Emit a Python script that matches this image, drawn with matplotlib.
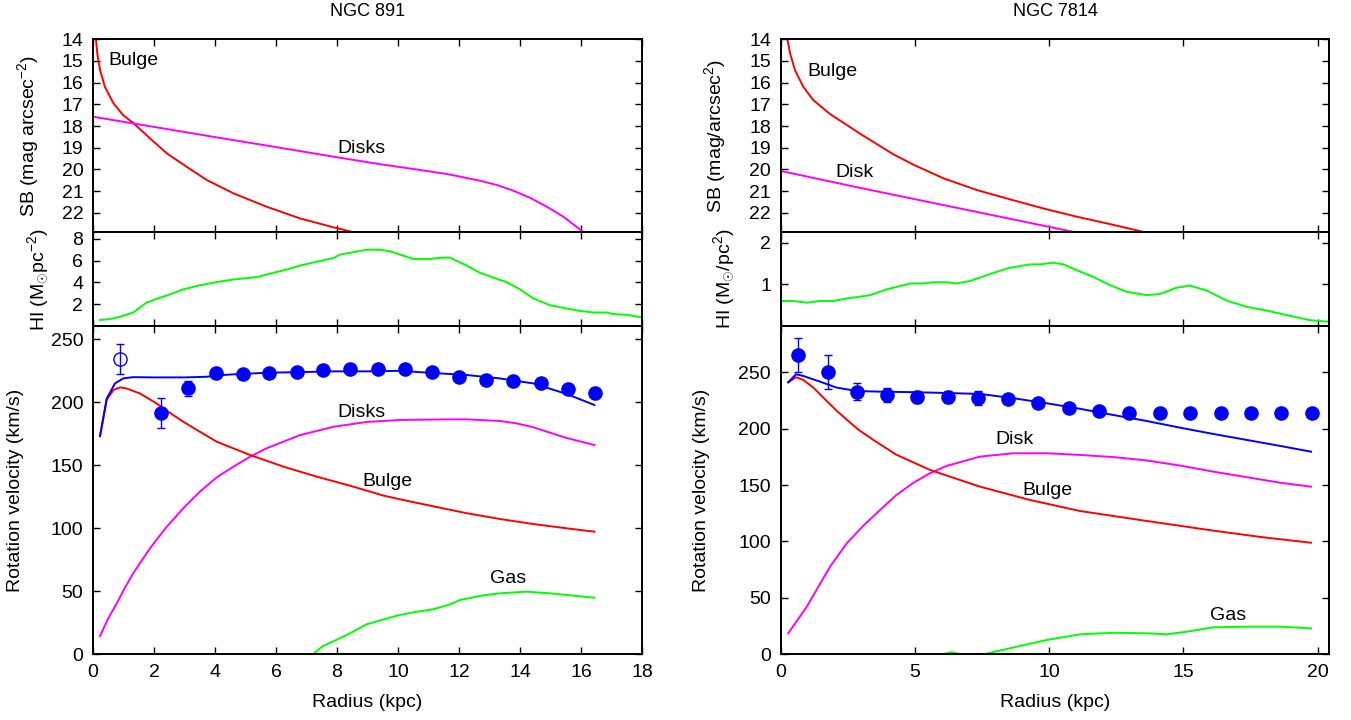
import numpy as np
import matplotlib.pyplot as plt

plt.rcParams['font.family'] = ['Liberation Sans', 'DejaVu Sans']
plt.rcParams['font.size'] = 14
plt.rcParams['mathtext.fontset'] = 'custom'
plt.rcParams['mathtext.rm'] = 'Liberation Sans'
plt.rcParams['mathtext.it'] = 'Liberation Sans:italic'

RED = '#ff0000'
MAG = '#ff00ff'
GRN = '#00ff00'
BLU = '#0000ff'

# ---------------- NGC 891 ----------------
sb891_bulge_r = [0.10, 0.14, 0.23, 0.39, 0.67, 0.99, 1.32, 1.87, 2.42, 3.07, 3.73, 4.60, 5.69, 6.79, 7.88, 8.53]
sb891_bulge = [14.03, 14.65, 15.42, 16.19, 16.95, 17.50, 17.86, 18.57, 19.26, 19.88, 20.49, 21.10, 21.72, 22.26, 22.67, 22.89]
sb891_disk_r = [0.0, 2.0, 4.0, 6.0, 8.0, 9.41, 10.5, 11.6, 12.69, 13.24, 13.78, 14.33, 14.88, 15.42, 16.08]
sb891_disk = [17.57, 18.04, 18.51, 18.97, 19.44, 19.76, 19.98, 20.21, 20.52, 20.72, 20.98, 21.31, 21.72, 22.18, 22.89]

hi891_r = [0.23, 0.56, 0.89, 1.32, 1.76, 2.2, 2.52, 2.96, 3.5, 4.06, 4.6, 5.15, 5.48, 5.69, 6.35, 6.79,
           7.88, 8.1, 8.97, 9.41, 9.74, 10.07, 10.5, 11.05, 11.38, 11.7, 12.25, 12.69, 13.24, 13.56,
           14.0, 14.44, 14.98, 15.53, 15.96, 16.4, 16.84, 17.05, 17.49, 18.0]
hi891 = [0.55, 0.64, 0.85, 1.24, 2.15, 2.6, 2.9, 3.36, 3.73, 4.03, 4.27, 4.42, 4.55, 4.73, 5.18, 5.55,
         6.24, 6.55, 7.0, 7.0, 6.85, 6.55, 6.15, 6.15, 6.27, 6.27, 5.55, 4.88, 4.33, 4.03,
         3.36, 2.52, 1.91, 1.61, 1.39, 1.24, 1.24, 1.09, 1.03, 0.8]

obs891_r = [2.22, 3.13, 4.02, 4.91, 5.78, 6.68, 7.55, 8.44, 9.33, 10.23, 11.1, 12.01, 12.89, 13.78, 14.68, 15.56, 16.46]
obs891_v = [191.3, 211.3, 223, 222.2, 223.5, 224, 225.6, 226.2, 226.2, 226.4, 223.8, 219.8, 217.5, 217.1, 215.6, 210.3, 207.6]
obs891_e = [12, 6, 3, 3, 3, 3, 3, 3, 3, 3, 3, 3, 3, 3, 3, 3, 3]
open891_r = [0.89]
open891_v = [234.4]
open891_e = [12]

tot891_r = [0.23, 0.45, 0.72, 0.99, 1.32, 2.0, 3.0, 3.73, 4.06, 4.6, 5.69, 6.79, 7.88, 8.97, 10.07,
            11.15, 12.25, 13.34, 14.44, 15.53, 16.44]
tot891_v = [173.3, 203, 215, 219, 220, 219.8, 219.8, 220.3, 221.4, 222.2, 223.5, 224, 224.6, 224.6, 225,
            223.3, 221.7, 219, 215, 206.6, 197.9]
bul891_r = [0.23, 0.45, 0.67, 0.89, 1.1, 1.54, 2.08, 2.42, 2.96, 3.5, 4.06, 5.15, 6.25, 7.34, 8.43, 9.52,
            10.07, 11.15, 12.25, 13.34, 14.44, 15.53, 16.44]
bul891_v = [173, 202, 209.8, 211.9, 211, 207, 199.2, 193.3, 184.6, 176.7, 168.7, 158.2, 148.9, 141, 133.8, 126,
            123, 117.5, 112, 107.4, 103.4, 100, 97.3]
dsk891_r = [0.23, 0.5, 0.78, 1.05, 1.32, 1.6, 1.87, 2.15, 2.42, 2.96, 3.5, 4.06, 4.6, 5.15, 5.69, 6.79, 7.88, 8.97,
            10.07, 11.72, 12.25, 13.34, 13.89, 14.44, 14.98, 15.53, 16.44]
dsk891_v = [14.5, 28.5, 40.5, 53, 64.3, 74.5, 84.1, 93, 101.3, 115.9, 129, 140.5, 148.9, 156.8, 163.5, 174, 180.6, 184.4,
            186, 186.5, 186.5, 185.2, 183.3, 180.2, 175.9, 171.7, 166.1]
gas891_r = [7.21, 7.54, 7.93, 8.43, 8.97, 9.84, 10.07, 10.62, 11.15, 11.72, 12.03, 12.8, 13.34, 14.22, 14.98, 16.44]
gas891_v = [0, 6.6, 10.8, 16.7, 23.8, 29.8, 31.2, 33.8, 35.7, 39.7, 43.1, 46.8, 48.4, 49.7, 48.4, 44.9]

# ---------------- NGC 7814 ----------------
sb7814_bulge_r = [0.25, 0.35, 0.53, 0.84, 1.21, 1.84, 2.46, 2.95, 4.19, 4.94, 6.06, 7.3, 8.54, 9.78, 11.02, 12.26, 13.5]
sb7814_bulge = [14.0, 14.65, 15.42, 16.19, 16.8, 17.45, 17.95, 18.35, 19.3, 19.78, 20.41, 20.95, 21.38, 21.8, 22.18, 22.52, 22.88]
sb7814_disk_r = [0.0, 2.95, 10.9]
sb7814_disk = [20.07, 20.85, 22.88]

hi7814_r = [0.0, 0.47, 0.97, 1.46, 1.96, 2.46, 3.33, 3.95, 4.82, 5.31, 5.68, 6.18, 6.55, 7.05, 7.67, 8.42,
            8.66, 9.28, 9.66, 10.15, 10.53, 11.02, 11.64, 12.26, 12.89, 13.63, 14.13, 14.75, 15.24, 15.87,
            16.61, 17.36, 18.1, 18.85, 19.71, 20.43]
hi7814 = [0.6, 0.6, 0.56, 0.6, 0.6, 0.66, 0.74, 0.88, 1.02, 1.02, 1.05, 1.05, 1.02, 1.08, 1.22, 1.38,
          1.41, 1.48, 1.48, 1.52, 1.48, 1.34, 1.18, 0.98, 0.82, 0.74, 0.77, 0.92, 0.97, 0.85,
          0.61, 0.46, 0.37, 0.26, 0.14, 0.1]

obs7814_r = [0.66, 1.75, 2.85, 3.97, 5.09, 6.22, 7.36, 8.48, 9.6, 10.74, 11.87, 12.98, 14.13, 15.24, 16.39, 17.5, 18.63, 19.78]
obs7814_v = [265.3, 250, 232.8, 229.9, 228.1, 228.1, 227.2, 226.3, 223, 218.6, 216, 213.8, 214, 214, 213.5, 214, 214, 214]
obs7814_e = [15, 15, 7.5, 6.5, 5, 5.5, 6, 3, 3, 3, 3, 3, 3, 3, 3, 3, 3, 3]

tot7814_r = [0.28, 0.57, 0.84, 1.46, 2.08, 2.83, 3.7, 5.06, 7.42, 8.66, 9.91, 11.15, 12.39, 13.63, 14.87,
             16.11, 17.36, 18.6, 19.75]
tot7814_v = [241.1, 248.2, 246.7, 241.7, 236.4, 233.4, 232.8, 232.3, 230.8, 227, 222.5, 217.6, 212.1, 206.8, 200.9,
             195.3, 190, 184.7, 179.6]
bul7814_r = [0.28, 0.57, 0.84, 1.21, 1.65, 2.08, 2.46, 2.9, 3.45, 4.3, 5.56, 7.42, 9.28, 11.15, 13.63, 16.11, 17.97, 19.75]
bul7814_v = [241.1, 245.6, 243.2, 236.5, 226, 216, 208, 199, 190, 177, 163.4, 148.6, 136.8, 127, 118.2, 109.6, 103.7, 98.9]
dsk7814_r = [0.28, 0.97, 1.84, 2.46, 3.1, 3.7, 4.3, 4.94, 5.56, 6.18, 7.42, 8.66, 9.91, 11.15, 12.39, 13.63, 14.87, 16.11, 18.6, 19.75]
dsk7814_v = [18.6, 42.2, 77.7, 98.4, 114.5, 127.9, 141, 152, 160.5, 167, 175.2, 178.2, 178.2, 176.7, 174.8, 171.8, 167.3, 161.9, 152.1, 148.6]
gas7814_r = [5.6, 6.06, 6.37, 6.68, 7.0, 7.55, 8.66, 9.91, 11.15, 12.39, 13.63, 14.38, 15.12, 16.11, 17.36, 18.6, 19.75]
gas7814_v = [-4, 0.3, 1.8, 0.3, -4, 0, 6, 12.7, 17.7, 19.1, 18.6, 17.7, 20.0, 23.9, 24.5, 24.5, 23.0]


def style(ax, xlim, ylim, yticks, xticks, xlabels=False):
    ax.set_xlim(*xlim)
    ax.set_ylim(*ylim)
    ax.set_xticks(xticks)
    ax.set_yticks(yticks)
    ax.tick_params(direction='in', length=5, width=1, top=True, right=True,
                   labelsize=14, pad=7, labelbottom=xlabels)
    for s in ax.spines.values():
        s.set_linewidth(1.4)


def panel_column(x0, w, xlim, xticks, title, d, labels):
    fig.text(x0 + w / 2, 1 - 12 / 720, title, ha='center', va='center', fontsize=13)

    ax1 = fig.add_axes([x0, 0.67736, w, 0.26806])
    ax1.plot(d['sbb_r'], d['sbb'], color=RED, lw=1.4)
    ax1.plot(d['sbd_r'], d['sbd'], color=MAG, lw=1.4)
    style(ax1, xlim, (22.9, 14), range(14, 23), xticks)
    ax1.set_ylabel(labels['sb'], va='center')
    ax1.yaxis.set_label_coords(labels['sbx'], 0.5)
    for t, x, y in d['sb_text']:
        ax1.text(x, y, t, ha='left', va='center')

    ax2 = fig.add_axes([x0, 0.54722, w, 0.13014])
    ax2.plot(d['hi_r'], d['hi'], color=GRN, lw=1.4)
    style(ax2, xlim, d['hi_lim'], d['hi_ticks'], xticks)
    ax2.set_ylabel(labels['hi'], va='center')
    ax2.yaxis.set_label_coords(labels['hix'], 0.5)

    ax3 = fig.add_axes([x0, 0.09125, w, 0.45597])
    ax3.plot(d['gas_r'], d['gas_v'], color=GRN, lw=1.4)
    ax3.plot(d['dsk_r'], d['dsk_v'], color=MAG, lw=1.4)
    ax3.plot(d['bul_r'], d['bul_v'], color=RED, lw=1.4)
    ax3.plot(d['tot_r'], d['tot_v'], color=BLU, lw=1.4)
    ax3.errorbar(d['obs_r'], d['obs_v'], yerr=d['obs_e'], fmt='o', color=BLU, ms=9.5,
                 elinewidth=1, capsize=3, capthick=1, zorder=5)
    if 'open_r' in d:
        ax3.errorbar(d['open_r'], d['open_v'], yerr=d['open_e'], fmt='o', mfc='none', mec=BLU,
                     color=BLU, ms=9.5, mew=1, elinewidth=1, capsize=3, capthick=1, zorder=5)
    style(ax3, xlim, d['rot_lim'], range(0, 251, 50), xticks, xlabels=True)
    ax3.set_ylabel('Rotation velocity (km/s)', va='center')
    ax3.yaxis.set_label_coords(labels['rotx'], 0.5)
    ax3.set_xlabel('Radius (kpc)', va='center')
    ax3.xaxis.set_label_coords(0.5, -0.148)
    for t, x, y in d['rot_text']:
        ax3.text(x, y, t, ha='left', va='center')


fig = plt.figure(figsize=(13.51, 7.2), dpi=100)

d891 = dict(sbb_r=sb891_bulge_r, sbb=sb891_bulge, sbd_r=sb891_disk_r, sbd=sb891_disk,
            sb_text=[('Bulge', 0.49, 15.0), ('Disks', 8.0, 19.02)],
            hi_r=hi891_r, hi=hi891, hi_lim=(0, 8.6), hi_ticks=[2, 4, 6, 8],
            gas_r=gas891_r, gas_v=gas891_v, dsk_r=dsk891_r, dsk_v=dsk891_v,
            bul_r=bul891_r, bul_v=bul891_v, tot_r=tot891_r, tot_v=tot891_v,
            obs_r=obs891_r, obs_v=obs891_v, obs_e=obs891_e,
            open_r=open891_r, open_v=open891_v, open_e=open891_e,
            rot_lim=(0, 260.6),
            rot_text=[('Disks', 8.0, 192.3), ('Bulge', 8.82, 137.5), ('Gas', 13.0, 59.8)])
panel_column(0.06884, 0.40637, (0, 18), range(0, 19, 2), 'NGC 891', d891,
             dict(sb='SB (mag arcsec$^{-2}$)', hi=r'HI (M$_{\odot}$pc$^{-2}$)',
                  sbx=-0.118, hix=-0.100, rotx=-0.142))

d7814 = dict(sbb_r=sb7814_bulge_r, sbb=sb7814_bulge, sbd_r=sb7814_disk_r, sbd=sb7814_disk,
             sb_text=[('Bulge', 0.98, 15.5), ('Disk', 2.02, 20.12)],
             hi_r=hi7814_r, hi=hi7814, hi_lim=(0, 2.25), hi_ticks=[1, 2],
             gas_r=gas7814_r, gas_v=gas7814_v, dsk_r=dsk7814_r, dsk_v=dsk7814_v,
             bul_r=bul7814_r, bul_v=bul7814_v, tot_r=tot7814_r, tot_v=tot7814_v,
             obs_r=obs7814_r, obs_v=obs7814_v, obs_e=obs7814_e,
             rot_lim=(0, 291),
             rot_text=[('Disk', 7.98, 190), ('Bulge', 8.99, 144.8), ('Gas', 15.99, 34.8)])
panel_column(0.57787, 0.40607, (0, 20.43), range(0, 21, 5), 'NGC 7814', d7814,
             dict(sb='SB (mag/arcsec$^{2}$)', hi=r'HI (M$_{\odot}$/pc$^{2}$)',
                  sbx=-0.12, hix=-0.102, rotx=-0.144))

fig.savefig('out.png', dpi=100)
